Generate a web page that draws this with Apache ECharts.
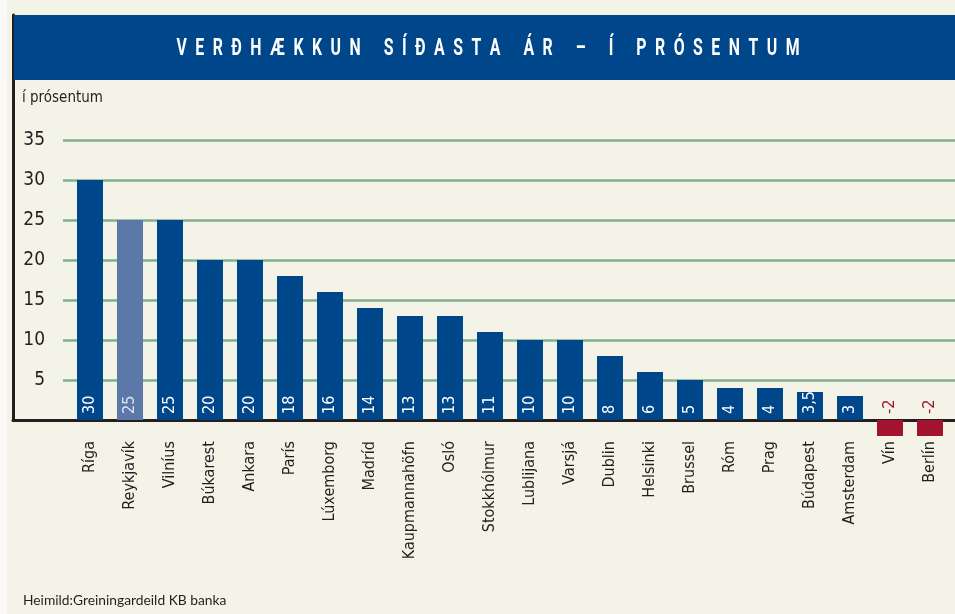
<!DOCTYPE html>
<html>
<head>
<meta charset="utf-8">
<script src="https://cdn.jsdelivr.net/npm/echarts@6/dist/echarts.min.js"></script>
<style>
html,body{margin:0;padding:0;background:#f4f3e8;}
#chart{width:955px;height:614px;}
</style>
</head>
<body>
<div id="chart"></div>
<script>
var categories = ['Ríga','Reykjavík','Vilníus','Búkarest','Ankara','París','Lúxemborg','Madríd','Kaupmannahöfn','Osló','Stokkhólmur','Lublijana','Varsjá','Dublin','Helsinki','Brussel','Róm','Prag','Búdapest','Amsterdam','Vín','Berlín'];
var values = [30,25,25,20,20,18,16,14,13,13,11,10,10,8,6,5,4,4,3.5,3,-2,-2];
var yTicks = [5,10,15,20,25,30,35];
var titleText = 'VERÐHÆKKUN SÍÐASTA ÁR – Í PRÓSENTUM';
var unitText = 'í prósentum';
var sourceText = 'Heimild:Greiningardeild KB banka';

var NARROW = "'DejaVu Sans Condensed',Roboto,sans-serif";
var BLUE = '#00468a', LIGHT = '#5c78a9', RED = '#a3122f', INK = '#231f20', GREEN = '#7fb08f';

// letter-spaced, horizontally condensed title built from per-character texts
function titleGraphics(text, cx, cy){
  var size = 24, fam = 'Roboto';
  var sx = 0.66, gap = 8.5, wordGap = 14.5;
  var ctx = document.createElement('canvas').getContext('2d');
  ctx.font = 'bold ' + size + 'px ' + fam;
  var items = [], x = 0;
  for (var i = 0; i < text.length; i++){
    var ch = text[i];
    if (ch === ' ') { x += wordGap; continue; }
    var w = ctx.measureText(ch).width * sx;
    items.push({ch: ch, x: x, w: w});
    x += w + gap;
  }
  var total = x - gap;
  var start = cx - total / 2;
  return items.map(function(it){
    return {type: 'text', x: start + it.x, y: cy, scaleX: sx, scaleY: 1, z: 12,
      style: {text: it.ch, fontSize: size, fontFamily: fam, fontWeight: 'bold', fill: '#ffffff', align: 'left', verticalAlign: 'middle'}};
  });
}

var barData = values.map(function(v, i){
  var neg = v < 0;
  var color = neg ? RED : (categories[i] === 'Reykjavík' ? LIGHT : BLUE);
  return {
    value: v,
    itemStyle: {color: color},
    label: {
      position: neg ? 'top' : 'insideBottom',
      distance: 6,
      color: neg ? RED : (categories[i] === 'Reykjavík' ? '#dfe3ee' : '#ffffff')
    }
  };
});

var chart = echarts.init(document.getElementById('chart'), null, {renderer: 'canvas'});
chart.setOption({
  backgroundColor: '#f4f3e8',
  animation: false,
  graphic: [
    {type: 'rect', left: 0, top: 0, shape: {width: 7, height: 614}, style: {fill: '#fbfaf6'}, z: 0},
    {type: 'rect', left: 14, top: 15, shape: {width: 941, height: 65}, style: {fill: BLUE}, z: 10}
  ].concat(titleGraphics(titleText, 488, 49)),
  title: [
    {text: unitText, left: 22, top: 91, padding: 0, textStyle: {color: INK, fontFamily: NARROW, fontWeight: 'normal', fontSize: 15}},
    {text: sourceText, left: 23, top: 594, padding: 0, textStyle: {color: INK, fontFamily: "Lato,'Open Sans',sans-serif", fontWeight: 'normal', fontSize: 13.8}}
  ],
  grid: [
    {left: 13, right: 0, top: 15, height: 405},
    {left: 63, right: 0, top: 140, height: 320},
    {left: 70, right: 5, top: 140, height: 320}
  ],
  xAxis: [
    {gridIndex: 0, type: 'value', min: 0, max: 1, axisLine: {show: true, lineStyle: {color: INK, width: 3}}, axisTick: {show: false}, axisLabel: {show: false}, splitLine: {show: false}},
    {gridIndex: 1, type: 'category', data: [''], show: false},
    {gridIndex: 2, type: 'category', data: categories,
      axisLine: {show: false}, axisTick: {show: false},
      axisLabel: {rotate: 90, interval: 0, margin: -19, color: INK, fontFamily: NARROW, fontSize: 16}}
  ],
  yAxis: [
    {gridIndex: 0, type: 'value', min: 0, max: 1, axisLine: {show: true, lineStyle: {color: INK, width: 3}}, axisTick: {show: false}, axisLabel: {show: false}, splitLine: {show: false}},
    {gridIndex: 1, type: 'value', min: -5, max: 35, interval: 5,
      axisLine: {show: false}, axisTick: {show: false},
      axisLabel: {margin: 18, color: INK, fontFamily: NARROW, fontSize: 19,
        formatter: function(v){ return yTicks.indexOf(v) >= 0 ? String(v) : ''; }},
      splitLine: {show: true, lineStyle: {width: 2.5, color: ['rgba(0,0,0,0)','rgba(0,0,0,0)',GREEN,GREEN,GREEN,GREEN,GREEN,GREEN,GREEN]}}},
    {gridIndex: 2, type: 'value', min: -5, max: 35, interval: 5, show: false, splitLine: {show: false}}
  ],
  series: [{
    type: 'bar',
    xAxisIndex: 2, yAxisIndex: 2,
    data: barData,
    barWidth: 26,
    z: 3,
    label: {
      show: true, rotate: 90, align: 'left', verticalAlign: 'middle',
      fontFamily: NARROW, fontSize: 16,
      formatter: function(p){ return String(p.value).replace('.', ','); }
    }
  }]
});
</script>
</body>
</html>
